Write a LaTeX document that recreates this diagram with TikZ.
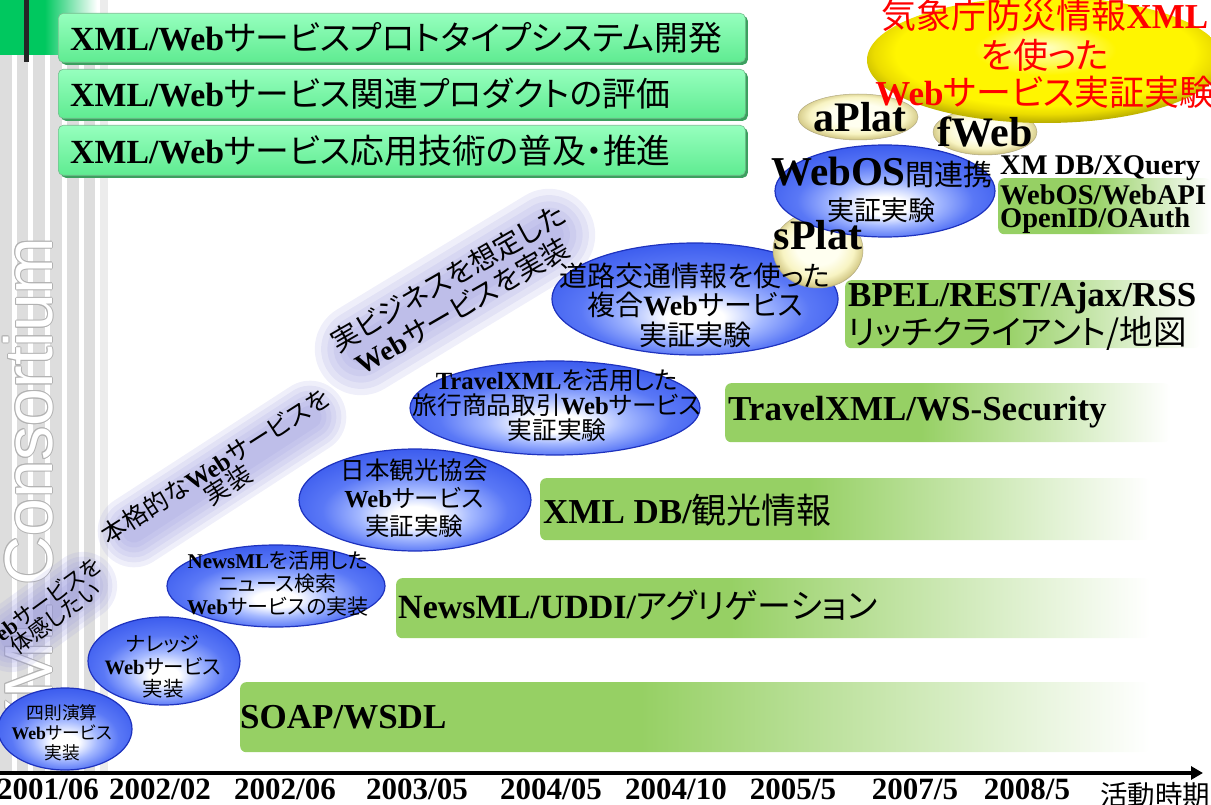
\documentclass[tikz,border=0pt]{standalone}
\usepackage{fontspec}
\setmainfont{Liberation Serif}
\newfontfamily\jp{Noto Sans CJK JP}[RawFeature={+palt}]
\newfontfamily\lsans{Liberation Sans}
\usetikzlibrary{shapes.geometric,arrows.meta,shadows}
\newcommand\lb[1]{{\rmfamily\bfseries #1}}
\newcommand\fsz[2]{\fontsize{#1}{#2}\selectfont}
\definecolor{stripe}{RGB}{221,221,221}
\definecolor{stripeL}{RGB}{236,236,236}
\definecolor{topgreen}{RGB}{0,200,95}
\definecolor{mintT}{RGB}{150,255,190}
\definecolor{mintB}{RGB}{95,235,145}
\definecolor{mintD}{RGB}{60,160,95}
\definecolor{techg}{RGB}{150,208,100}
\definecolor{lav}{RGB}{150,150,220}
\definecolor{bw}{RGB}{255,255,255}
\definecolor{b1}{RGB}{165,185,255}
\definecolor{b2}{RGB}{90,120,246}
\definecolor{b3}{RGB}{60,92,238}
\definecolor{b4}{RGB}{40,65,215}
\definecolor{b5}{RGB}{30,50,190}
\definecolor{y0}{RGB}{255,255,200}
\definecolor{y1}{RGB}{255,245,0}
\definecolor{y2}{RGB}{235,220,0}
\definecolor{y3}{RGB}{170,160,0}
\definecolor{c0}{RGB}{255,255,240}
\definecolor{c1}{RGB}{248,244,195}
\definecolor{c2}{RGB}{215,205,140}
\definecolor{c3}{RGB}{160,150,100}
\definecolor{redt}{RGB}{255,0,0}
\pgfdeclareradialshading{blueball}{\pgfpoint{0bp}{-9bp}}{color(0bp)=(bw); color(5bp)=(bw); color(12bp)=(b1); color(20bp)=(b2); color(29bp)=(b3); color(34bp)=(b4); color(50bp)=(b4)}
\pgfdeclareradialshading{yellowball}{\pgfpoint{0bp}{5bp}}{color(0bp)=(y0); color(10bp)=(y1); color(21bp)=(y1); color(24bp)=(y2); color(28bp)=(y3); color(50bp)=(y3)}
\pgfdeclareradialshading{creamball}{\pgfpoint{0bp}{3bp}}{color(0bp)=(c0); color(12bp)=(c0); color(20bp)=(c1); color(25bp)=(c2); color(28bp)=(c3); color(50bp)=(c3)}
\pgfdeclarehorizontalshading{greenfade}{100bp}{color(0bp)=(techg); color(25bp)=(techg); color(47bp)=(techg); color(75bp)=(white); color(100bp)=(white)}
\pgfdeclarehorizontalshading{topfade}{100bp}{color(0bp)=(topgreen); color(25bp)=(topgreen); color(48bp)=(topgreen); color(75bp)=(white); color(100bp)=(white)}
\tikzset{
  lavband/.style={draw=lav, line cap=round},
  blueE/.style={ellipse, inner sep=0pt, shading=blueball, draw=b5, line width=1.2pt},
  yellowE/.style={ellipse, inner sep=0pt, shading=yellowball},
  creamE/.style={ellipse, inner sep=0pt, shading=creamball, draw=c3!80, line width=0.5pt},
  etxt/.style={align=center, inner sep=0pt, text=black},
  techbox/.style={shading=greenfade, rounded corners=6pt, inner sep=0pt, anchor=north west},
  tech/.style={anchor=west, inner sep=0pt, font=\jp\fsz{35}{40}},
  mintbox/.style={rounded corners=5pt, top color=mintT, bottom color=mintB, draw=mintD!70, line width=0.6pt, anchor=north west, inner sep=0pt, minimum width=687pt, minimum height=49pt, drop shadow={shadow xshift=2.5pt, shadow yshift=-2.5pt, fill=mintD, opacity=1}},
  boxtxt/.style={anchor=west, inner sep=0pt, font=\jp\fsz{33.8}{40}},
  rtxt/.style={inner sep=0pt, text=black},
  redtxt/.style={inner sep=0pt, text=redt, font=\jp\fsz{35}{38}},
  yr/.style={anchor=base, inner sep=0pt, font=\rmfamily\bfseries\fsz{31}{31}},
  xmlc/.style={font=\lsans\fsz{68}{68}, rotate=90, anchor=base west, inner sep=0pt},
  plat/.style={anchor=base, inner sep=0pt, font=\rmfamily\bfseries\fsz{42}{42}}
}
\begin{document}
\begin{tikzpicture}[x=1pt,y=-1pt]
\useasboundingbox (0,0) rectangle (1211,805);
% left stripes
\foreach \i in {0,...,5} \fill[stripe] ({\i*16.7},0) rectangle ({\i*16.7+11.7},772);
\fill[stripeL] (100,0) rectangle (108,772);
% XML Consortium watermark
\foreach \dx/\dy [count=\k] in {1/0,-1/0,0/1,0/-1,.7/.7,-.7/.7,.7/-.7,-.7/-.7}
  \node[xmlc, text=gray!60] (xco\k) at ({52+\dx},{744+\dy}) {XML Consortium};
\node[xmlc, text=white] (xcons) at (52,744) {XML Consortium};
% top-left block
\path[shading=topfade] (0,0) rectangle (97,55);
\fill[black!85] (24,0) rectangle (29,62);
% mint boxes
\node[mintbox] (box1) at (58,13) {};
\node[mintbox] (box2) at (58,69) {};
\node[mintbox, minimum height=50pt] (box3) at (58,125) {};
\node[boxtxt] (t1) at ([xshift=12pt]box1.west) {\lb{XML/Web}サービスプロトタイプシステム開発};
\node[boxtxt] (t2) at ([xshift=12pt]box2.west) {\lb{XML/Web}サービス関連プロダクトの評価};
\node[boxtxt] (t3) at ([xshift=12pt]box3.west) {\lb{XML/Web}サービス応用技術の普及・推進};
% lavender bands
\coordinate (bA1) at (11,638); \coordinate (bA2) at (83,586);
\coordinate (bB1) at (134,531); \coordinate (bB2) at (310,417);
\coordinate (bC1) at (361,349); \coordinate (bC2) at (549,235);
\foreach \f in {1.1,0.95,0.8,0.65,0.5,0.35} {
  \draw[lavband, line width={62*\f}, opacity=0.15] (bA1) -- (bA2);
  \draw[lavband, line width={66*\f}, opacity=0.15] (bB1) -- (bB2);
  \draw[lavband, line width={84*\f}, opacity=0.15] (bC1) -- (bC2);
}
\node[rtxt, rotate=36, font=\jp\fsz{22}{22}] (rA1) at (39,605) {\lb{Web}サービスを};
\node[rtxt, rotate=36, font=\jp\fsz{22}{22}] (rA2) at (55,618) {体感したい};
\node[rtxt, rotate=32.5, font=\jp\fsz{25}{25}] (rB1) at (215,466) {本格的な\lb{Web}サービスを};
\node[rtxt, rotate=32.5, font=\jp\fsz{25}{25}] (rB2) at (228,485) {実装};
\node[rtxt, rotate=30, font=\jp\fsz{28}{28}] (rC1) at (448,278) {実ビジネスを想定した};
\node[rtxt, rotate=30, font=\jp\fsz{28}{28}] (rC2) at (462,306) {\lb{Web}サービスを実装};
% green technology bars
\node[techbox, minimum width=213pt, minimum height=56pt] (gW) at (998,178) {};
\node[techbox, minimum width=355pt, minimum height=68pt] (gB) at (845,280) {};
\node[techbox, minimum width=445pt, minimum height=59pt] (gT) at (725,383) {};
\node[techbox, minimum width=610pt, minimum height=62pt] (gX) at (540,478) {};
\node[techbox, minimum width=754pt, minimum height=60pt] (gN) at (396,578) {};
\node[techbox, minimum width=910pt, minimum height=70pt] (gS) at (240,682) {};
\node[tech, font=\rmfamily\bfseries\fsz{28.5}{30}] (xw1) at (1000,168) {XM DB/XQuery};
\node[tech, font=\rmfamily\bfseries\fsz{28.5}{30}] (xw2) at (1000,195) {WebOS/WebAPI};
\node[tech, font=\rmfamily\bfseries\fsz{28.5}{30}] (xw3) at (1000,221) {OpenID/OAuth};
\node[tech] (bp1) at (848,298) {\lb{BPEL/REST/Ajax/RSS}};
\node[tech, font=\jp\fsz{33.5}{40}] (bp2) at (848,333) {リッチクライアント/地図};
\node[tech] (tw) at (728,412) {\lb{TravelXML/WS-Security}};
\node[tech] (xd) at (543,510) {\lb{XML DB/}観光情報};
\node[tech, font=\jp\fsz{34}{40}] (nu) at (398,605) {\lb{NewsML/UDDI/}アグリゲーション};
\node[tech] (sw) at (240,717) {\lb{SOAP/WSDL}};
% ellipses (upper ones first)
\node[blueE, minimum width=286pt, minimum height=112pt] (eRoad) at (695,299) {};
\node[creamE, minimum width=90pt, minimum height=76pt] (eS) at (818,250) {};
\node[blueE, minimum width=220pt, minimum height=92pt] (eWebOS) at (885,191) {};
\node[creamE, minimum width=120pt, minimum height=46pt] (eA) at (858,117) {};
\node[creamE, minimum width=104pt, minimum height=46pt] (eF) at (985,132) {};
\node[yellowE, minimum width=356pt, minimum height=126pt] (eY) at (1045,60) {};
\node[blueE, minimum width=290pt, minimum height=94pt] (eTravel) at (555,408) {};
\node[blueE, minimum width=232pt, minimum height=102pt] (eNihon) at (415,500) {};
\node[blueE, minimum width=218pt, minimum height=82pt] (eNews) at (276,586) {};
\node[blueE, minimum width=152pt, minimum height=88pt] (eKnow) at (164,661) {};
\node[blueE, minimum width=134pt, minimum height=82pt] (eCalc) at (65,729) {};
% ellipse texts
\node[redtxt] (y1) at (1045,15) {気象庁防災情報\lb{XML}};
\node[redtxt] (y2) at (1045,55) {を使った};
\node[redtxt] (y3) at (1045,92) {\lb{Web}サービス実証実験};
\node[plat] (aP) at (860,132) {aPlat};
\node[plat] (fW) at (985,147) {fWeb};
\node[plat] (sP) at (818,250) {sPlat};
\node[rtxt, anchor=base] (wo1) at (882,186) {\lb{\fsz{41}{41}WebOS}\jp\fsz{29}{29}間連携};
\node[rtxt, font=\jp\fsz{27}{27}] (wo2) at (881,210) {実証実験};
\node[etxt, font=\jp\fsz{28}{29.5}] (tRoad) at (695,305) {道路交通情報を使った\\複合\lb{Web}サービス\\実証実験};
\node[etxt, font=\jp\fsz{24.7}{25}] (tTravel) at (557,405) {\lb{TravelXML}を活用した\\旅行商品取引\lb{Web}サービス\\実証実験};
\node[etxt, font=\jp\fsz{24.5}{28}] (tNihon) at (414,498) {日本観光協会\\\lb{Web}サービス\\実証実験};
\node[etxt, font=\jp\fsz{21}{23}] (tNews) at (278,584) {\lb{NewsML}を活用した\\ニュース検索\\\lb{Web}サービスの実装};
\node[etxt, font=\jp\fsz{20.5}{22.5}] (tKnow) at (163,667) {ナレッジ\\\lb{Web}サービス\\実装};
\node[etxt, font=\jp\fsz{17.7}{20}] (tCalc) at (62,733) {四則演算\\\lb{Web}サービス\\実装};
% time axis
\coordinate (ax0) at (0,773);
\coordinate (ax1) at (1203,773);
\draw[line width=4pt, -{Triangle[length=12pt, width=13pt]}] (ax0) -- (ax1);
\node[yr] (d1) at (48,799) {2001/06};
\node[yr] (d2) at (160,799) {2002/02};
\node[yr] (d3) at (285,799) {2002/06};
\node[yr] (d4) at (417,799) {2003/05};
\node[yr] (d5) at (551,799) {2004/05};
\node[yr] (d6) at (676,799) {2004/10};
\node[yr] (d7) at (793,799) {2005/5};
\node[yr] (d8) at (915,799) {2007/5};
\node[yr] (d9) at (1027,799) {2008/5};
\node[rtxt, font=\jp\fsz{27.5}{27.5}] (per) at (1155,795) {活動時期};
\end{tikzpicture}
\end{document}
